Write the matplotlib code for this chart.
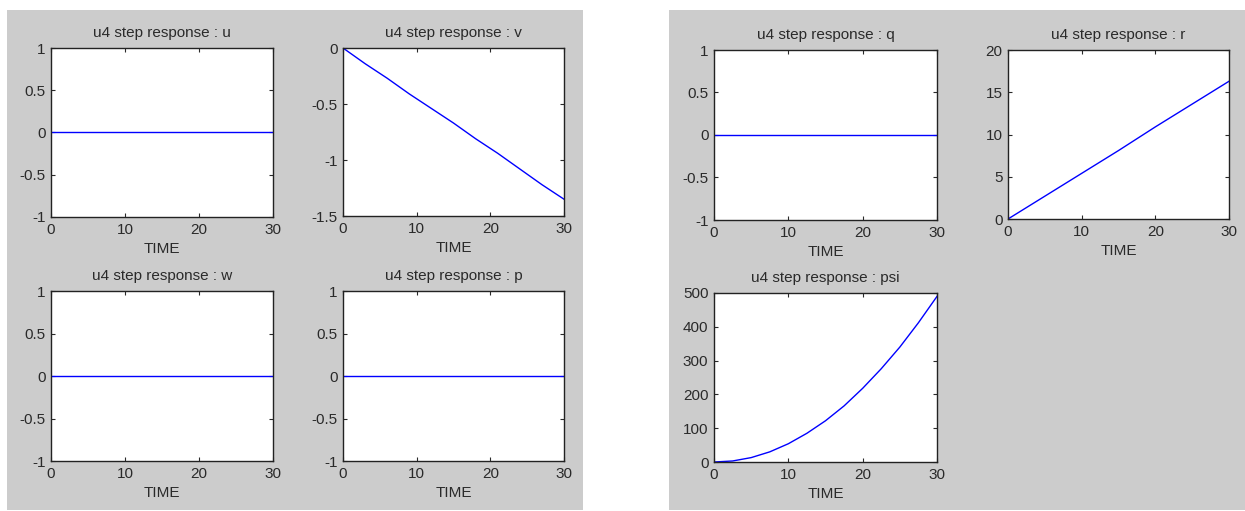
import numpy as np
import matplotlib.pyplot as plt
from matplotlib.patches import Rectangle

plt.rcParams['font.family'] = ['Liberation Sans', 'DejaVu Sans']

W, H = 1245, 511

# data
t_zero = [0, 30]
zero_vals = [0, 0]

t_v = [0, 3, 6, 9, 12, 15, 18, 21, 24, 27, 30]
v_vals = [0, -0.14, -0.27, -0.41, -0.54, -0.67, -0.81, -0.94, -1.08, -1.22, -1.35]

t_r = [0, 5, 10, 15, 20, 25, 30]
r_vals = [0, 2.7, 5.4, 8.1, 10.9, 13.6, 16.3]

t_psi = [0, 2.5, 5, 7.5, 10, 12.5, 15, 17.5, 20, 22.5, 25, 27.5, 30]
psi_vals = [0, 3, 13, 30, 54, 85, 122, 166, 218, 276, 340, 412, 490]

titles = ["u4 step response : u", "u4 step response : v",
          "u4 step response : w", "u4 step response : p",
          "u4 step response : q", "u4 step response : r",
          "u4 step response : psi"]
xticks = [0, 10, 20, 30]
yticks_unit = [-1, -0.5, 0, 0.5, 1]
yticks_v = [-1.5, -1, -0.5, 0]
yticks_r = [0, 5, 10, 15, 20]
yticks_psi = [0, 100, 200, 300, 400, 500]

fig = plt.figure(figsize=(W / 100, H / 100), dpi=100, facecolor='white')

# grey figure windows
for x0, x1 in [(7, 583), (669, 1245)]:
    fig.patches.append(Rectangle((x0 / W, 1 - 510 / H), (x1 - x0) / W, 500 / H,
                                 transform=fig.transFigure, facecolor='#cccccc',
                                 edgecolor='none', zorder=-10))

FS = 11
TXT = '#2a2a2a'


def make_ax(l, t, r, b):
    ax = fig.add_axes([l / W, 1 - b / H, (r - l) / W, (b - t) / H])
    ax.set_facecolor('white')
    for s in ax.spines.values():
        s.set_color('#222222')
        s.set_linewidth(1.0)
    ax.tick_params(direction='in', top=True, right=True, length=3,
                   labelsize=FS, colors=TXT, pad=4)
    ax.set_xlim(0, 30)
    ax.set_xticks(xticks)
    ax.set_xticklabels([str(x) for x in xticks])
    ax.set_xlabel('TIME', fontsize=FS, color=TXT, labelpad=4)
    return ax


def fmt(v):
    return ('%g' % v)


specs = [
    ((51, 48, 273, 217), titles[0], t_zero, zero_vals, yticks_unit),
    ((343, 48, 564, 216), titles[1], t_v, v_vals, yticks_v),
    ((51, 291, 273, 461), titles[2], t_zero, zero_vals, yticks_unit),
    ((343, 291, 564, 461), titles[3], t_zero, zero_vals, yticks_unit),
    ((714, 50, 937, 220), titles[4], t_zero, zero_vals, yticks_unit),
    ((1008, 50, 1229, 219), titles[5], t_r, r_vals, yticks_r),
    ((714, 293, 937, 462), titles[6], t_psi, psi_vals, yticks_psi),
]

for box, title, tx, ty, yt in specs:
    ax = make_ax(*box)
    ax.plot(tx, ty, color='#0000ff', linewidth=1.0)
    ax.set_ylim(yt[0], yt[-1])
    ax.set_yticks(yt)
    ax.set_yticklabels([fmt(v) for v in yt])
    ax.set_title(title, fontsize=FS, color=TXT, pad=8)

fig.savefig('out.png', dpi=100, facecolor='white')
